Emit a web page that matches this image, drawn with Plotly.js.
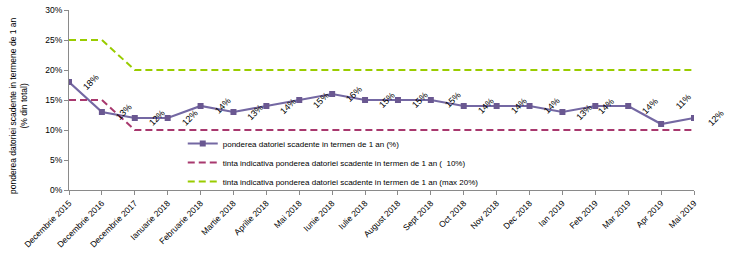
<!DOCTYPE html>
<html><head><meta charset="utf-8">
<script src="https://cdn.plot.ly/plotly-3.0.1.min.js"></script>
<style>html,body{margin:0;padding:0;background:#fff}#c{width:737px;height:257px}</style>
</head><body><div id="c"></div>
<script>
const categories = ["Decembrie 2015","Decembrie 2016","Decembrie 2017","Ianuarie 2018","Februarie 2018","Martie 2018","Aprilie 2018","Mai 2018","Iunie 2018","Iulie 2018","August 2018","Sept 2018","Oct 2018","Nov 2018","Dec 2018","Ian 2019","Feb 2019","Mar 2019","Apr 2019","Mai 2019"];
const pondere = [18,13,12,12,14,13,14,15,16,15,15,15,14,14,14,13,14,14,11,12];
const tintaMin = [15,15,10,10,10,10,10,10,10,10,10,10,10,10,10,10,10,10,10,10];
const tintaMax = [25,25,20,20,20,20,20,20,20,20,20,20,20,20,20,20,20,20,20,20];
const names = ["ponderea datoriei scadente in termen de 1 an (%)","tinta indicativa ponderea datoriei scadente in termen de 1 an (  10%)","tinta indicativa ponderea datoriei scadente in termen de 1 an (max 20%)"];
const yTitle = "ponderea datoriei scadente in termene de 1 an<br>(% din total)";

const font = "Liberation Sans, Arial, sans-serif";
const traces = [
  {x:categories, y:pondere, name:names[0], type:"scatter", mode:"lines+markers",
   line:{color:"#7468A3", width:2.2}, marker:{symbol:"square", size:6, color:"#6A5891"}},
  {x:categories, y:tintaMin, name:names[1], type:"scatter", mode:"lines",
   line:{color:"#A8386E", width:2, dash:"7px,4px"}},
  {x:categories, y:tintaMax, name:names[2], type:"scatter", mode:"lines",
   line:{color:"#99CC00", width:2, dash:"7px,4px"}}
];
// label placement tweaks (pixel shifts, as in the original chart's manual label placement)
const nudge = {16:{dx:-11, dy:0}, 18:{dx:0, dy:22}};
const annotations = pondere.map((v,i)=>({x:i, y:v, xref:"x", yref:"y", text:v+"%", showarrow:false,
  textangle:-45, xshift:22 + ((nudge[i]||{}).dx||0), yshift:((nudge[i]||{}).dy||0),
  font:{family:font, size:9, color:"#000"}}));
annotations.push({xref:"paper", yref:"paper", x:0, y:0.5, xanchor:"center", yanchor:"middle",
  xshift:-51, yshift:-6, textangle:-90, showarrow:false, text:yTitle, font:{family:font, size:8.5, color:"#000"}});

const layout = {
  width:737, height:257, margin:{l:69, r:43, t:10, b:67},
  paper_bgcolor:"#fff", plot_bgcolor:"#fff", showlegend:true,
  font:{family:font, size:8, color:"#000"},
  xaxis:{type:"category", range:[0,19], showgrid:false, showline:true, linecolor:"#8a8a8a", linewidth:1,
    ticks:"outside", ticklen:4, tickcolor:"#8a8a8a", tickangle:-45, tickfont:{size:8.5, family:font}, zeroline:false},
  yaxis:{range:[0,30], dtick:5, ticksuffix:"%", showgrid:false, showline:true, linecolor:"#8a8a8a", linewidth:1,
    ticks:"outside", ticklen:4, tickcolor:"#8a8a8a", tickfont:{size:8.5, family:font}, zeroline:false},
  legend:{x:0.182, y:0.339, xanchor:"left", yanchor:"top", bgcolor:"rgba(0,0,0,0)", font:{size:8, family:font}, tracegroupgap:0, itemwidth:30},
  annotations:annotations
};
Plotly.newPlot("c", traces, layout, {staticPlot:true});
</script></body></html>
